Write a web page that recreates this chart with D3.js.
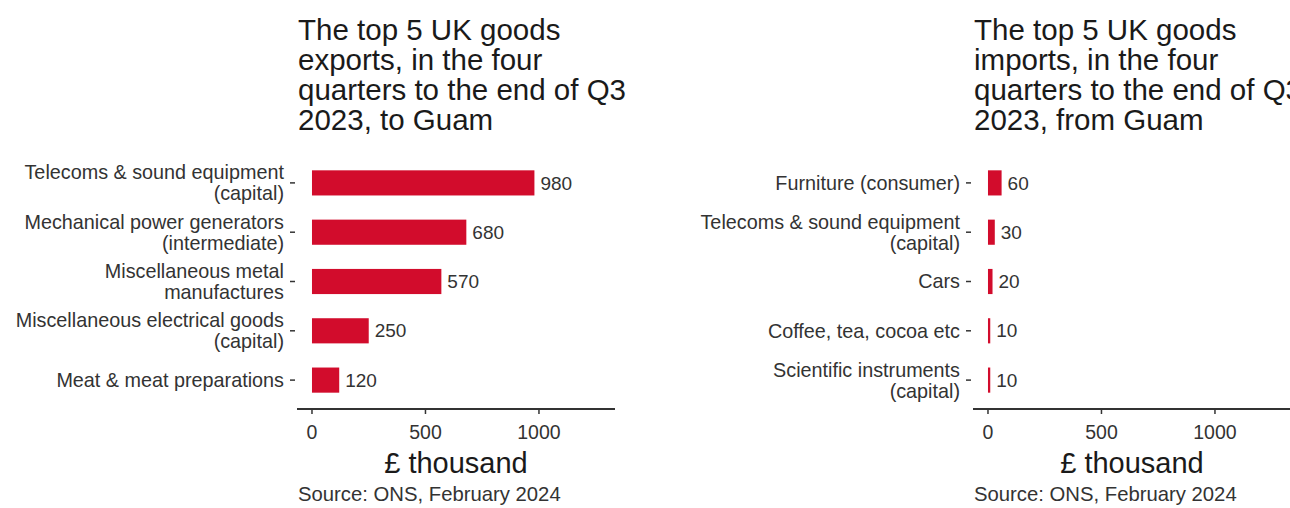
<!DOCTYPE html>
<html>
<head>
<meta charset="utf-8">
<script src="https://cdn.jsdelivr.net/npm/d3@7"></script>
<style>
  body { margin: 0; background: #fff; }
  svg { display: block; font-family: "Liberation Sans", Arial, sans-serif; }
</style>
</head>
<body>
<div id="chart"></div>
<script>
const width = 1290;
const height = 508;

// exports to Guam (£ thousand)
const exportLabels = [
  ["Telecoms & sound equipment", "(capital)"],
  ["Mechanical power generators", "(intermediate)"],
  ["Miscellaneous metal", "manufactures"],
  ["Miscellaneous electrical goods", "(capital)"],
  ["Meat & meat preparations"]
];
const exportValues = [980, 680, 570, 250, 120];

// imports from Guam (£ thousand)
const importLabels = [
  ["Furniture (consumer)"],
  ["Telecoms & sound equipment", "(capital)"],
  ["Cars"],
  ["Coffee, tea, cocoa etc"],
  ["Scientific instruments", "(capital)"]
];
const importValues = [60, 30, 20, 10, 10];

const xTicks = [0, 500, 1000];
const xDomain = [-66, 1335];

const exportTitle = ["The top 5 UK goods", "exports, in the four", "quarters to the end of Q3", "2023, to Guam"];
const importTitle = ["The top 5 UK goods", "imports, in the four", "quarters to the end of Q3", "2023, from Guam"];

const barColor = "#d20c2c";
const textColor = "#333";

const svg = d3.select("#chart")
  .append("svg")
  .attr("width", width)
  .attr("height", height);

function drawPanel(left, labels, values, title) {
  const g = svg.append("g");
  const right = left + 318;

  const x = d3.scaleLinear().domain(xDomain).range([left, right]);
  const y = d3.scaleBand()
    .domain(d3.range(values.length))
    .range([158, 405])
    .paddingInner(0.49)
    .paddingOuter(0.25);

  // title
  g.append("text")
    .attr("x", left + 1)
    .attr("y", 40)
    .style("font-size", "29.5px")
    .style("fill", "#1a1a1a")
    .selectAll("tspan")
    .data(title)
    .enter().append("tspan")
    .attr("x", left + 1)
    .attr("dy", (d, i) => i === 0 ? 0 : 30)
    .text(d => d);

  // bars
  g.selectAll("rect")
    .data(values)
    .enter().append("rect")
    .attr("x", x(0))
    .attr("y", (d, i) => y(i))
    .attr("width", d => x(d) - x(0))
    .attr("height", y.bandwidth())
    .attr("fill", barColor);

  // value labels
  g.selectAll(".val")
    .data(values)
    .enter().append("text")
    .attr("class", "val")
    .attr("x", d => x(d) + 6)
    .attr("y", (d, i) => y(i) + y.bandwidth() / 2)
    .attr("dy", "0.35em")
    .style("font-size", "19px")
    .style("fill", textColor)
    .text(d => d);

  // y ticks + labels
  const yTick = g.selectAll(".ytick")
    .data(labels)
    .enter().append("g")
    .attr("class", "ytick")
    .attr("transform", (d, i) => `translate(0,${y(i) + y.bandwidth() / 2})`);

  yTick.append("line")
    .attr("x1", left - 7)
    .attr("x2", left - 2)
    .attr("stroke", textColor)
    .attr("stroke-width", 1.5);

  yTick.append("text")
    .attr("text-anchor", "end")
    .style("font-size", "19.8px")
    .style("fill", textColor)
    .selectAll("tspan")
    .data(d => d.map((t, j) => ({ t, j, n: d.length })))
    .enter().append("tspan")
    .attr("x", left - 13)
    .attr("y", d => (d.j - (d.n - 1) / 2) * 21)
    .attr("dy", "0.35em")
    .text(d => d.t);

  // x axis
  const axisY = 409;
  g.append("line")
    .attr("x1", left)
    .attr("x2", right)
    .attr("y1", axisY)
    .attr("y2", axisY)
    .attr("stroke", textColor)
    .attr("stroke-width", 2);

  g.selectAll(".xtick")
    .data(xTicks)
    .enter().append("line")
    .attr("x1", d => x(d))
    .attr("x2", d => x(d))
    .attr("y1", axisY)
    .attr("y2", axisY + 5)
    .attr("stroke", textColor)
    .attr("stroke-width", 1.5);

  g.selectAll(".xlab")
    .data(xTicks)
    .enter().append("text")
    .attr("x", d => x(d))
    .attr("y", 439)
    .attr("text-anchor", "middle")
    .style("font-size", "19.5px")
    .style("fill", textColor)
    .text(d => d);

  g.append("text")
    .attr("x", (left + right) / 2)
    .attr("y", 473)
    .attr("text-anchor", "middle")
    .style("font-size", "29px")
    .style("fill", "#1a1a1a")
    .text("£ thousand");

  g.append("text")
    .attr("x", left + 1)
    .attr("y", 501)
    .style("font-size", "20.3px")
    .style("fill", textColor)
    .text("Source: ONS, February 2024");
}

drawPanel(297, exportLabels, exportValues, exportTitle);
drawPanel(973, importLabels, importValues, importTitle);
</script>
</body>
</html>
